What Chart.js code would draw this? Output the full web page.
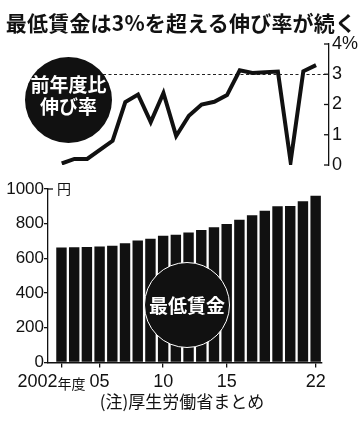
<!DOCTYPE html>
<html><head><meta charset="utf-8">
<script src="https://cdn.jsdelivr.net/npm/chart.js@4.4.0/dist/chart.umd.min.js"></script>
<style>
html,body{margin:0;padding:0;background:#fff;}
#wrap{position:relative;width:359px;height:423px;overflow:hidden;background:#fff;}
canvas{position:absolute;left:0;top:0;}
.t{position:absolute;white-space:nowrap;color:#111;}
#title{left:0;top:10px;width:362px;text-align:center;font-family:'Noto Sans CJK JP';font-weight:bold;font-size:21px;line-height:24px;letter-spacing:0.2px;}
#note{left:0;top:391px;width:364px;text-align:center;font-family:'Noto Sans CJK JP';font-size:17px;line-height:20px;}
#yen{left:57px;top:180px;font-family:'Noto Sans CJK JP';font-size:14px;line-height:16px;}
.circ{position:absolute;border-radius:50%;background:#111;color:#fff;font-family:'Noto Sans CJK JP';font-weight:bold;text-align:center;display:flex;flex-direction:column;justify-content:center;align-items:center;box-sizing:border-box;z-index:5;}
#c1{left:25px;top:57px;width:87px;height:86px;font-size:19px;line-height:22px;padding-bottom:10px;}
#c2{left:144px;top:262px;width:86px;height:86px;font-size:19px;line-height:22px;border:1.5px solid #fff;}
</style></head>
<body>
<div id="wrap">
<canvas id="bar" width="359" height="423"></canvas>
<canvas id="line" width="359" height="423"></canvas>
<div class="t" id="title">最低賃金は3%を超える伸び率が続く</div>
<div class="circ" id="c1"><div>前年度比</div><div>伸び率</div></div>
<div class="circ" id="c2"><div>最低賃金</div></div>
<div class="t" id="yen">円</div>
<div class="t" id="note">(注)厚生労働省まとめ</div>
</div>
<script>
const years = [2002,2003,2004,2005,2006,2007,2008,2009,2010,2011,2012,2013,2014,2015,2016,2017,2018,2019,2020,2021,2022];
const wages = [663,664,665,668,673,687,703,713,730,737,749,764,780,798,823,848,874,901,902,930,961];
const rates = [0.05,0.2,0.2,0.5,0.8,2.08,2.33,1.42,2.38,0.96,1.63,2.0,2.09,2.31,3.13,3.04,3.07,3.09,0.11,3.1,3.3];
const rateTicks = [0,1,2,3,4];
const wageTicks = [0,200,400,600,800,1000];
const xTickYears = [2002,2005,2010,2015,2022];
const refRate = 3;

const NUM = "'Liberation Sans'";
const INK = '#111';

// Line chart (top)
new Chart(document.getElementById('line'), {
  type: 'line',
  data: { datasets: [{ data: years.map((y,i)=>({x:y,y:rates[i]})), borderColor: INK, borderWidth: 4, pointRadius: 0, tension: 0, borderJoinStyle: 'miter' }] },
  options: {
    animation: false, responsive: false, devicePixelRatio: 1,
    layout: { padding: { top: 44, bottom: 258, left: 48, right: 0 } },
    plugins: { legend: { display: false }, tooltip: { enabled: false } },
    scales: {
      x: { type: 'linear', min: 2000.92, max: 2023.02, display: false, offset: false },
      y: {
        position: 'right', min: 0, max: 4,
        afterBuildTicks(s){ s.ticks = rateTicks.map(v=>({value:v})); },
        afterFit(s){ s.width = 30; },
        ticks: { padding: 3, color: INK, font: { family: NUM, size: 18 }, callback: v => v === 4 ? '4%' : String(v) },
        grid: { display: false, drawTicks: false },
        border: { display: true, color: INK, width: 1.3 }
      }
    }
  },
  plugins: [{
    id: 'refline',
    beforeDatasetsDraw(chart){
      const {ctx, chartArea, scales} = chart;
      const y = Math.round(scales.y.getPixelForValue(refRate)) + 0.5;
      ctx.save();
      ctx.strokeStyle = '#222'; ctx.lineWidth = 1; ctx.setLineDash([3,2.5]);
      ctx.beginPath(); ctx.moveTo(chartArea.left, y); ctx.lineTo(chartArea.right, y); ctx.stroke();
      ctx.restore();
    },
    afterDraw(chart){
      const {ctx, chartArea, scales} = chart;
      ctx.save(); ctx.strokeStyle = INK; ctx.lineWidth = 1.3;
      rateTicks.forEach(v=>{
        const y = scales.y.getPixelForValue(v);
        ctx.beginPath(); ctx.moveTo(chartArea.right - 5, y); ctx.lineTo(chartArea.right, y); ctx.stroke();
      });
      ctx.restore();
    }
  }]
});

// Bar chart (bottom)
new Chart(document.getElementById('bar'), {
  type: 'bar',
  data: { datasets: [{ data: years.map((y,i)=>({x:y,y:wages[i]})), backgroundColor: INK, borderWidth: 0, barPercentage: 0.82, categoryPercentage: 1 }] },
  options: {
    animation: false, responsive: false, devicePixelRatio: 1,
    layout: { padding: { top: 189, bottom: 30.5, left: 0, right: 37 } },
    plugins: { legend: { display: false }, tooltip: { enabled: false } },
    scales: {
      x: {
        type: 'linear', min: 2000.94, max: 2022.5, offset: false,
        afterBuildTicks(s){ s.ticks = xTickYears.map(v=>({value:v})); },
        afterFit(s){ s.height = 30; },
        ticks: { autoSkip: false, maxRotation: 0, padding: 4, color: INK, font: { family: NUM, size: 18 },
                 callback: v => v === 2002 ? '' : String(v).slice(2) },
        grid: { offset: false, drawOnChartArea: false, drawTicks: true, tickLength: 5, color: INK, lineWidth: 1.3 },
        border: { display: true, color: INK, width: 1.5 }
      },
      y: {
        min: 0, max: 1000,
        afterBuildTicks(s){ s.ticks = wageTicks.map(v=>({value:v})); },
        afterFit(s){ s.width = 48; },
        ticks: { padding: 0, color: INK, font: { family: NUM, size: 17 }, callback: v => String(v) },
        grid: { drawOnChartArea: false, drawTicks: true, tickLength: 4, color: INK, lineWidth: 1.3 },
        border: { display: true, color: INK, width: 1.3 }
      }
    }
  },
  plugins: [{
    id: 'extras',
    afterDraw(chart){
      const {ctx, chartArea, scales} = chart;
      ctx.save();
      ctx.strokeStyle = INK; ctx.lineWidth = 1.3;
      const yTop = scales.y.getPixelForValue(1000);
      ctx.beginPath(); ctx.moveTo(chartArea.left, yTop); ctx.lineTo(chartArea.left + 5, yTop); ctx.stroke();
      const px = scales.x.getPixelForValue(2002);
      const cy = scales.x.top + 5 + 4 + 10.8;
      ctx.fillStyle = INK; ctx.textBaseline = 'middle';
      ctx.font = "18px " + NUM; ctx.textAlign = 'right';
      ctx.fillText('2002', px - 4, cy);
      ctx.font = "14px 'Noto Sans CJK JP'"; ctx.textAlign = 'left';
      ctx.fillText('年度', px - 4, cy + 1);
      ctx.restore();
    }
  }]
});
</script>
</body></html>
